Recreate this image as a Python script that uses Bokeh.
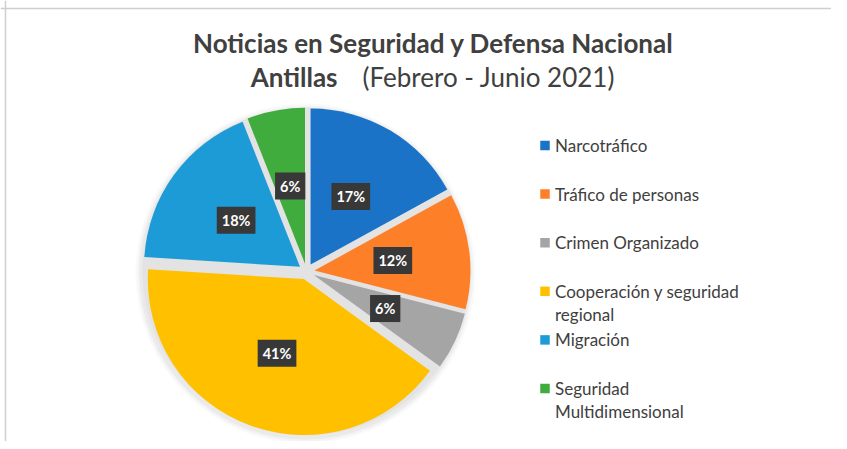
import math
from bokeh.plotting import figure
from bokeh.models import Range1d, Span
from bokeh.core.properties import value
from bokeh.embed import file_html
from bokeh.resources import INLINE

categories = ["Narcotráfico", "Tráfico de personas", "Crimen Organizado",
              "Cooperación y seguridad\nregional", "Migración",
              "Seguridad\nMultidimensional"]
percent = [17, 12, 6, 41, 18, 6]
colors = ["#1a73c7", "#fd7f27", "#a5a5a5", "#ffc000", "#1d9bd7", "#3fac3d"]
title_line1 = "Noticias en Seguridad y Defensa Nacional"
title_line2_bold = "Antillas"
title_line2_rest = "(Febrero - Junio 2021)"

W, H = 831, 441
p = figure(width=W, height=H, output_backend="svg", toolbar_location=None,
           x_range=Range1d(0, W), y_range=Range1d(0, H),
           min_border=0, match_aspect=False)
p.axis.visible = False
p.grid.visible = False
p.outline_line_color = None
p.background_fill_color = "white"
p.border_fill_color = "white"

p.add_layout(Span(location=5, dimension="height", line_color="#cfcfcf", line_width=1.5))
p.add_layout(Span(location=H - 8, dimension="width", line_color="#cfcfcf", line_width=1.5))

cx, cy, R = 306, 170, 164
explode = 8

# soft shadow
for k, a in [(6, 0.05), (4, 0.07), (2, 0.10)]:
    p.circle(x=[cx - 1], y=[cy - 2], radius=R + k, fill_color="#9a9a9a",
             fill_alpha=a, line_color=None)
p.circle(x=[cx], y=[cy], radius=R, fill_color="#e3e3e3", line_color=None)

total = sum(percent)
start = math.pi / 2
xs, ys, sa, ea, lx, ly, labels = [], [], [], [], [], [], []
for v in percent:
    span = v / total * 2 * math.pi
    end = start - span
    mid = (start + end) / 2
    xs.append(cx + explode * math.cos(mid))
    ys.append(cy + explode * math.sin(mid))
    sa.append(start)
    ea.append(end)
    lx.append(cx + 87 * math.cos(mid))
    ly.append(cy + 87 * math.sin(mid))
    labels.append(f"{v}%")
    start = end

p.wedge(x=xs, y=ys, radius=R - explode, start_angle=sa, end_angle=ea,
        direction="clock", fill_color=colors, line_color=None)

p.text(x=lx, y=ly, text=labels, text_align="center", text_baseline="middle",
       text_color="white", text_font=value("Lato"), text_font_style="bold",
       text_font_size="14.5px", background_fill_color="#383838",
       padding=5)

# title
p.text(x=[433], y=[399], text=[title_line1], text_align="center",
       text_baseline="alphabetic", text_color="#404040",
       text_font=value("Lato"), text_font_style="bold", text_font_size="26px")
p.text(x=[337], y=[365], text=[title_line2_bold], text_align="right",
       text_baseline="alphabetic", text_color="#404040",
       text_font=value("Lato"), text_font_style="bold", text_font_size="26px")
p.text(x=[362], y=[365], text=[title_line2_rest], text_align="left",
       text_baseline="alphabetic", text_color="#404040",
       text_font=value("Lato"), text_font_size="26px")

# legend
lg_x, lg_y0, lg_dy = 544.5, 296, 48.6
sq_x = [lg_x] * len(categories)
sq_y = [lg_y0 - i * lg_dy for i in range(len(categories))]
p.rect(x=sq_x, y=sq_y, width=9.5, height=9.5, fill_color=colors, line_color=None)
line_texts_x, line_texts_y, line_texts = [], [], []
for i, lab in enumerate(categories):
    for j, part in enumerate(lab.split("\n")):
        line_texts_x.append(lg_x + 10)
        line_texts_y.append(sq_y[i] - j * 23)
        line_texts.append(part)
p.text(x=line_texts_x, y=line_texts_y, text=line_texts, text_align="left",
       text_baseline="middle", text_color="#404040", text_font=value("Lato"),
       text_font_size="17px")

open("out.html", "w").write(file_html(p, INLINE))
